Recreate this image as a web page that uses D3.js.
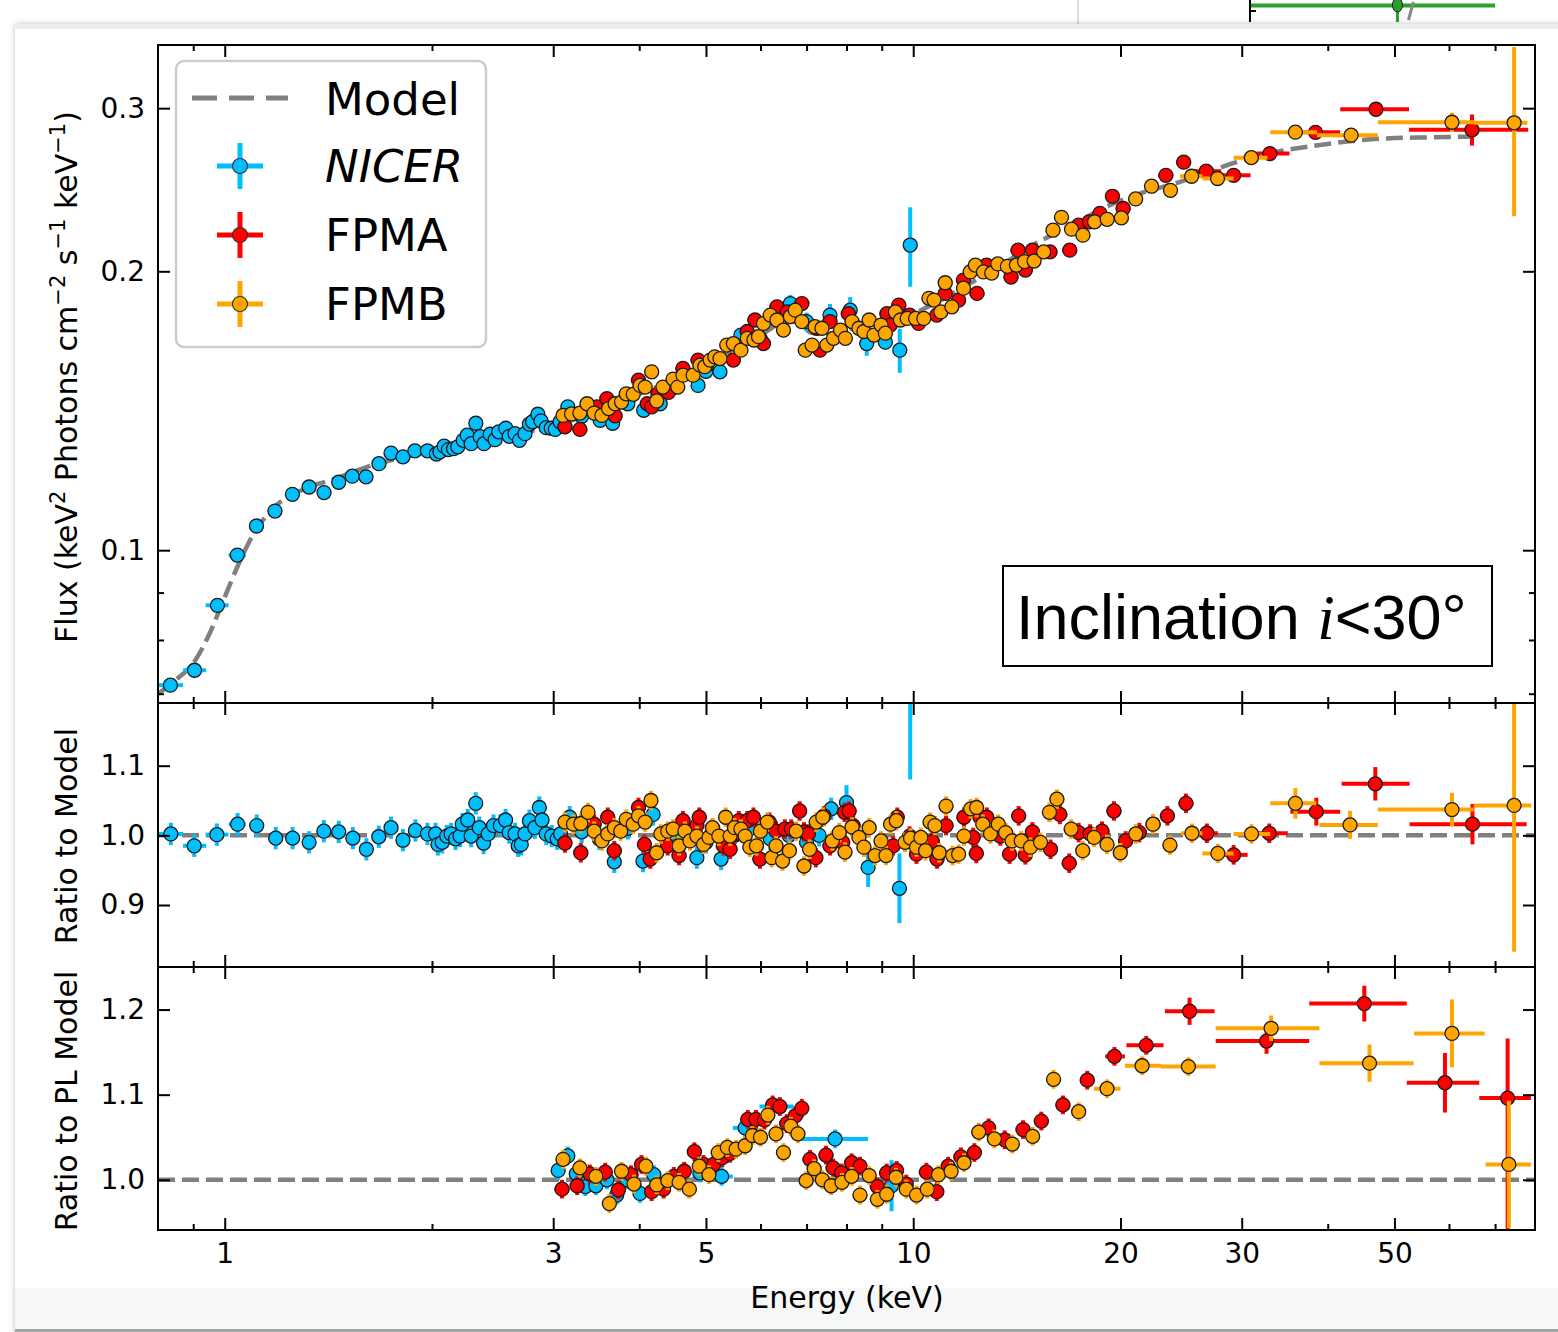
<!DOCTYPE html>
<html>
<head>
<meta charset="utf-8">
<script src="https://cdn.jsdelivr.net/npm/d3@7"></script>
<style>
  body { margin: 0; background: #fff; }
  svg { font-family: "DejaVu Sans", sans-serif; }
</style>
</head>
<body>
<svg id="chart" width="1558" height="1332"></svg>
<script>
// ---- values ----
// rows: [energy keV, value, dy (or [dyLo, dyHi]), E low, E high]; missing entries use the panel default

// model curve, top panel
const modelTop = [[0.80,0.0700],[0.85,0.0725],[0.90,0.0755],[0.95,0.0812],[1.00,0.0890],[1.05,0.0970],
  [1.10,0.1040],[1.15,0.1090],[1.20,0.1125],[1.30,0.1163],[1.45,0.1195],[1.60,0.1228],[1.80,0.1258],
  [2.0,0.1282],[2.5,0.1325],[3.0,0.1362],[3.5,0.1415],[4.0,0.1475],[4.5,0.1528],[5.0,0.1585],
  [5.5,0.1650],[6.0,0.1705],[6.4,0.1755],[6.8,0.1765],[7.1,0.1718],[7.5,0.1712],[8.0,0.1730],
  [9.0,0.1760],[10,0.1800],[11,0.1865],[12,0.1935],[13,0.2000],[15,0.2140],[17,0.2243],[19,0.2345],
  [21.5,0.2431],[24.3,0.2495],[28,0.2590],[31,0.2655],[35,0.2705],[40,0.2745],[45,0.2772],
  [50,0.2785],[56,0.2790],[65,0.2795]];

const nicerTop = [[0.834,0.0715,null,0.80,0.87],[0.904,0.0742,null,0.87,0.94],[0.976,0.0872,null,0.938,1.013],
  [1.043,0.0988,null,1.013,1.073],[1.112,0.1062,null,1.087,1.139],[1.183,0.1102,null,1.158,1.206],
  [1.254,0.1149],[1.326,0.1170],[1.394,0.1154],[1.464,0.1184],[1.532,0.1202],[1.604,0.1200],
  [1.675,0.1240],[1.744,0.1273],[1.815,0.1261],[1.889,0.1280],[1.970,0.1280],[2.03,0.1270],
  [2.054,0.1277],[2.083,0.1295],[2.113,0.1284],[2.15,0.1287],[2.18,0.1293],[2.22,0.1314],
  [2.25,0.1331],[2.28,0.1303],[2.316,0.1371],[2.35,0.1326],[2.38,0.1303],[2.43,0.1334],
  [2.47,0.1316],[2.50,0.1342],[2.56,0.1354],[2.59,0.1327],[2.64,0.1336],[2.68,0.1314],
  [2.73,0.1336],[2.77,0.1368],[2.80,0.1376],[2.85,0.1402],[2.88,0.1379],[2.93,0.1356],
  [2.98,0.1354],[3.02,0.1350],[3.07,0.1376],[3.15,0.1428],[3.30,0.1395],[3.51,0.1381],
  [3.66,0.1371],[3.85,0.1439],[4.06,0.1416],[4.29,0.1439],[4.50,0.1500],[4.87,0.1506],
  [5.00,0.1560],[5.24,0.1558],[5.62,0.1707],[6.00,0.1690],[6.63,0.1846,0.004],[7.00,0.1765,0.004],
  [7.57,0.1794,0.005],[8.10,0.1816,0.006],[8.56,0.1671,0.005],[9.11,0.1677,0.003],
  [9.56,0.1644,0.009],[9.90,0.2135,0.021]];

const fpmaTop = [[3.12,0.1359],[3.28,0.1350],[3.47,0.1428],[3.59,0.1457],[3.69,0.1396],[3.99,0.1526],
  [4.11,0.1439],[4.17,0.1428],[4.26,0.1475],[4.41,0.1480],[4.63,0.1571],[4.87,0.1604],[5.01,0.1584],
  [5.48,0.1604],[5.74,0.1722],[5.89,0.1772],[6.06,0.1671],[6.34,0.1831],[6.56,0.1808],[6.89,0.1846],
  [7.24,0.1736],[7.32,0.1644],[7.57,0.1765],[8.05,0.1800],[9.16,0.1800],[9.26,0.1750],[9.53,0.1839],
  [9.88,0.1794],[10.18,0.1757],[10.82,0.1794],[11.13,0.1893],[11.64,0.1862],[11.83,0.1957],
  [12.38,0.1893],[12.78,0.2031],[13.87,0.1972],[14.2,0.2108],[14.55,0.2006],[14.9,0.2108],
  [15.8,0.2099],[16.88,0.2108],[17.39,0.2243],[18.02,0.2262],[18.67,0.2310],[19.47,0.2410],
  [20.18,0.2338],[23.28,0.2539],[24.71,0.2623],[26.64,0.2565,null,25.4,28.0],[29.2,0.2539,null,28.0,30.9],
  [32.96,0.2680,0.004,31.5,35.2],[38.4,0.2825,0.004,36.8,41.7],[47.0,0.2992,0.0055,41.7,52.5],
  [64.8,0.2843,0.011,52.5,78.2]];

const fpmbTop = [[3.10,0.1398],[3.19,0.1403],[3.28,0.1406],[3.36,0.1439],[3.44,0.1406],[3.53,0.1398],
  [3.61,0.1422],[3.69,0.1439],[3.77,0.1445],[3.83,0.1475],[3.92,0.1473],[4.01,0.1506],[4.08,0.1500],
  [4.17,0.1558],[4.24,0.1449],[4.33,0.1500],[4.48,0.1530],[4.55,0.1500],[4.63,0.1545],[4.79,0.1545],
  [4.90,0.1584],[4.98,0.1578],[5.07,0.1604],[5.15,0.1617],[5.24,0.1610],[5.36,0.1665],[5.48,0.1671],
  [5.62,0.1644],[5.74,0.1693],[5.87,0.1686],[5.96,0.1700],[6.06,0.1757],[6.20,0.1794],[6.34,0.1772],
  [6.48,0.1728],[6.63,0.1787],[6.74,0.1816],[6.89,0.1765],[6.97,0.1644],[7.13,0.1665],[7.20,0.1743],
  [7.37,0.1736],[7.49,0.1665],[7.66,0.1693],[7.84,0.1728],[7.97,0.1693],[8.15,0.1765],[8.34,0.1736],
  [8.48,0.1722],[8.63,0.1772],[8.77,0.1707],[8.98,0.1750],[9.11,0.1715],[9.42,0.1808],[9.58,0.1772],
  [9.80,0.1779],[10.08,0.1779],[10.36,0.1779],[10.54,0.1870],[10.72,0.1862],[10.97,0.1808],
  [11.13,0.1944],[11.38,0.1831],[11.83,0.1918],[12.10,0.1997],[12.31,0.2031],[12.65,0.1997],
  [13.00,0.1991],[13.27,0.2037],[13.7,0.2025],[14.12,0.2031],[14.51,0.2049],[14.98,0.2052],
  [15.47,0.2099],[15.96,0.2215],[16.42,0.2287],[16.98,0.2221],[17.64,0.2188],[18.34,0.2262],
  [19.13,0.2276],[20.06,0.2284],[21.04,0.2394],[22.19,0.2471],[23.64,0.2446],
  [25.37,0.2533,null,24.4,26.3],[27.67,0.2519,null,26.3,29.2],[30.98,0.2653,null,29.2,32.7],
  [35.9,0.2826,0.004,33.0,38.6],[43.25,0.2805,0.004,38.6,47.3],[60.6,0.2897,0.007,47.3,65.2],
  [74.6,0.2893,0.060,65.2,78.0]];

// ratio to model, middle panel
const nicerRatio = [[0.835,1.002,null,0.80,0.87],[0.903,0.985,null,0.87,0.94],[0.974,1.001,null,0.938,1.013],
  [1.044,1.016,null,1.013,1.073],[1.113,1.014,null,1.087,1.139],[1.186,0.996,null,1.158,1.206],
  [1.255,0.996],[1.326,0.990],[1.393,1.006],[1.464,1.005],[1.535,0.996],[1.606,0.980],[1.674,0.998],
  [1.744,1.011],[1.815,0.993],[1.892,1.007],[1.970,1.002],[2.024,1.002],[2.040,0.987],[2.070,0.990],
  [2.101,0.999],[2.132,1.002],[2.164,0.995],[2.197,0.999],[2.213,1.016],[2.254,1.022],[2.28,0.999],
  [2.315,1.046],[2.343,1.011],[2.377,0.989],[2.413,1.002],[2.457,1.014],[2.513,1.014],[2.558,1.022],
  [2.589,1.004],[2.64,1.002],[2.668,0.985],[2.696,0.987],[2.729,1.002],[2.771,1.021],[2.821,1.011],
  [2.864,1.040],[2.89,1.022],[2.93,1.002],[2.985,0.999],[3.04,0.995],[3.075,1.002],[3.17,1.026],
  [3.30,1.005],[3.50,0.995],[3.68,0.962],[3.85,1.010],[4.05,0.963],[4.19,1.030],[4.40,0.990],
  [4.60,1.000],[4.85,0.968],[5.00,0.990],[5.26,0.966],[5.50,1.000],[5.80,1.010],[6.20,0.995],
  [6.60,1.000],[7.00,0.990],[7.30,1.000],[7.60,1.038],[8.00,1.047,0.025],[8.60,0.954,0.028],
  [9.55,0.924,0.050],[9.90,1.210,0.130]];

const fpmaRatio = [[3.12,0.989],[3.29,0.975],[3.44,1.016],[3.60,1.026],[3.68,0.978],[3.99,1.040],
  [4.07,0.987],[4.15,0.966],[4.40,0.985],[4.57,0.971],[4.63,1.021],[4.85,1.014],[4.89,1.026],
  [5.11,1.009],[5.30,0.985],[5.42,0.980],[5.50,1.002],[5.58,1.021],[5.74,1.021],[5.86,1.026],
  [5.99,0.966],[6.18,1.019],[6.32,1.006],[6.51,1.009],[6.65,1.009],[6.84,1.035],[6.94,1.005],
  [7.04,1.002],[7.22,0.968],[7.42,1.028],[7.57,0.985],[7.90,0.990],[7.95,1.033],[8.07,1.035],
  [8.18,1.014],[9.35,0.985],[9.48,1.026],[9.88,0.999],[10.11,0.973],[10.66,0.991],[10.83,0.966],
  [11.16,1.014],[11.85,1.026],[12.22,0.997],[12.35,0.974],[12.50,1.026],[12.79,1.026],[13.38,0.999],
  [13.80,0.973],[14.23,1.028],[14.55,0.972],[14.90,1.005],[15.83,0.980],[16.33,1.030],[16.85,0.960],
  [17.39,1.004],[18.07,1.002],[18.80,1.006],[19.57,1.035],[20.35,0.992],[21.30,1.004],[22.30,1.016],
  [23.40,1.028],[24.90,1.046],[26.7,1.003,null,25.9,27.7],[29.2,0.972,null,28.3,30.6],
  [32.9,1.003,null,31.0,35.0],[38.5,1.034,0.020,35.3,41.7],[46.9,1.074,0.024,41.9,52.6],
  [64.9,1.016,0.029,52.6,77.8]];

const fpmbRatio = [[3.12,1.019],[3.21,1.016],[3.29,1.017],[3.37,1.033],[3.44,1.006],[3.53,0.992],
  [3.60,1.002],[3.68,1.011],[3.76,1.006],[3.83,1.023],[3.92,1.016],[3.99,1.028],[4.08,1.019],
  [4.16,1.050],[4.24,0.975],[4.30,1.002],[4.40,1.006],[4.48,1.009],[4.57,0.985],[4.66,1.006],
  [4.74,0.992],[4.85,0.999],[4.96,0.987],[5.05,0.997],[5.11,1.011],[5.22,0.999],[5.34,1.026],
  [5.42,0.999],[5.50,1.011],[5.62,1.009],[5.70,0.999],[5.79,0.983],[5.92,0.985],[6.00,1.006],
  [6.14,1.019],[6.23,0.968],[6.32,0.985],[6.46,0.963],[6.61,0.978],[6.76,1.006],[6.94,0.956],
  [7.07,0.980],[7.23,1.019],[7.39,1.026],[7.63,0.992],[7.81,1.004],[7.96,0.976],[8.15,1.012],
  [8.34,0.997],[8.48,0.983],[8.63,1.011],[8.80,0.971],[8.98,0.992],[9.13,0.971],[9.27,1.016],
  [9.45,1.021],[9.73,0.990],[9.91,0.996],[10.11,0.983],[10.26,0.997],[10.42,0.978],[10.58,1.019],
  [10.75,1.014],[10.91,0.975],[11.16,1.042],[11.41,0.971],[11.64,0.973],[11.85,0.999],[12.12,1.038],
  [12.36,1.040],[12.62,1.016],[12.95,1.002],[13.29,1.016],[13.62,1.004],[13.92,0.992],[14.35,0.992],
  [14.80,0.983],[15.31,0.990],[15.77,1.033],[16.17,1.052],[16.96,1.009],[17.63,0.978],[18.31,0.997],
  [19.12,0.987],[19.99,0.975],[21.05,1.002],[22.3,1.016],[23.6,0.986],[25.4,1.003,null,24.5,26.3],
  [27.7,0.974,null,26.3,29.2],[31.0,1.002,null,29.2,33.0],[35.9,1.046,0.022,33.0,38.5],
  [43.1,1.015,0.020,38.9,47.3],[60.6,1.037,0.024,47.3,65.2],[74.6,1.043,0.210,65.2,79.0]];

// ratio to power-law model, bottom panel
const nicerPL = [[3.05,1.011],[3.15,1.028],[3.24,1.007],[3.34,0.992],[3.46,0.993],[3.59,1.000],
  [3.71,0.982],[3.84,1.000],[4.01,0.984],[4.20,1.006],[4.90,1.008],[5.27,1.004,null,4.78,5.47],
  [5.70,1.061,null,5.47,5.95],[6.40,1.086,null,5.98,6.70],[7.70,1.048,null,6.80,8.60],[9.30,0.993,0.030]];

const fpmaPL = [[3.09,0.989],[3.25,0.993],[3.39,1.007],[3.57,1.009],[3.73,0.988],[3.89,1.006],
  [4.03,1.018],[4.17,0.986],[4.34,0.989],[4.49,1.004],[4.65,1.010],[4.81,1.033],[4.96,1.018],
  [5.13,1.018],[5.28,1.026],[5.42,1.031],[5.75,1.071],[5.91,1.071],[6.08,1.070],[6.25,1.088],
  [6.40,1.086],[6.55,1.066],[6.74,1.075],[6.89,1.084],[7.08,1.024],[7.47,1.029],[7.65,1.014],
  [7.87,1.008],[8.14,1.020],[8.37,1.016],[8.87,0.992],[9.15,1.008],[9.46,1.011],[9.77,0.995],
  [10.45,1.009],[10.82,0.986],[11.24,1.016],[11.73,1.027],[12.27,1.032],[12.87,1.061],[13.58,1.047],
  [14.44,1.059],[15.35,1.069],[16.5,1.088],[17.9,1.117],[19.6,1.145,null,19.0,20.3],
  [21.8,1.158,null,20.4,23.1],[25.2,1.198,0.016,23.2,27.4],[32.6,1.163,0.015,27.5,37.6],
  [45.2,1.207,0.021,37.6,52.1],[59.2,1.114,0.035,52.1,66.4],[73.0,1.096,[0.16,0.07],66.4,78.9]];

const fpmbPL = [[3.10,1.024],[3.28,1.014],[3.46,1.004],[3.62,0.972],[3.77,1.010],[3.93,0.995],
  [4.09,1.016],[4.24,0.994],[4.40,0.999],[4.57,0.997],[4.73,0.989],[4.89,1.016],[5.05,1.006],
  [5.21,1.032],[5.37,1.038],[5.53,1.036],[5.70,1.040],[5.84,1.052],[6.00,1.050],[6.15,1.076],
  [6.32,1.054],[6.48,1.032],[6.64,1.063],[6.80,1.054],[6.99,0.999],[7.18,1.013],[7.38,1.000],
  [7.60,0.993],[7.88,0.997],[8.14,1.004],[8.37,0.982],[8.63,1.005],[8.87,0.977],[9.15,0.983],
  [9.44,1.003],[9.77,0.989],[10.11,0.982],[10.48,0.989],[10.88,1.006],[11.35,1.010],[11.85,1.020],
  [12.45,1.056],[13.12,1.048],[13.93,1.042],[14.91,1.051],[15.99,1.118],[17.39,1.080],
  [19.12,1.107,null,18.3,20.0],[21.5,1.134,null,20.3,22.9],[25.1,1.133,null,22.9,27.5],
  [33.1,1.178,0.015,27.5,38.9],[46.0,1.137,0.022,38.9,53.3],[60.6,1.172,0.040,53.4,67.6],
  [73.3,1.018,0.075,67.8,78.9]];

// ticks
const xMajor = [1, 3, 5, 10, 20, 30, 50];
const xMinor = [0.9, 2, 4, 6, 7, 8, 9, 40, 60, 70];
const fluxMajor = [0.1, 0.2, 0.3];
const fluxMinor = [0.07, 0.08, 0.09];
const ratioTicks = [0.9, 1.0, 1.1];
const plTicks = [1.0, 1.1, 1.2];

// stray piece of the neighbouring figure at the top edge
const neighbourPoint = [[43, 20.1, 71.4]];

// ---- layout ----
const svg = d3.select("#chart");
const L = 158, R = 1535;
const cNicer = "#00bfff", cFpma = "#ff0000", cFpmb = "#ffa500";

const x = d3.scaleLog().domain([0.8, 80]).range([L, R]);

const yFlux = d3.scaleLog().domain([0.0684, 0.351]).range([703, 45]);
const yRatio = d3.scaleLinear().domain([0.811, 1.19]).range([967, 703]);
const yPL = d3.scaleLinear().domain([0.941, 1.25]).range([1230, 967]);

// window frame of the screenshot
const defs = svg.append("defs");
const sh = defs.append("filter").attr("id", "shadow").attr("x", "-5%").attr("y", "-5%")
  .attr("width", "110%").attr("height", "110%");
sh.append("feGaussianBlur").attr("in", "SourceAlpha").attr("stdDeviation", 3);
sh.append("feOffset").attr("dx", 0).attr("dy", 0).attr("result", "b");
sh.append("feComponentTransfer").append("feFuncA").attr("type", "linear").attr("slope", 0.25);
const mg = sh.append("feMerge");
mg.append("feMergeNode");
mg.append("feMergeNode").attr("in", "SourceGraphic");

svg.append("line").attr("x1", 1078).attr("x2", 1078).attr("y1", 0).attr("y2", 26)
  .attr("stroke", "#dedede").attr("stroke-width", 2);

// neighbour fragment
const nx = d3.scaleLog().domain([20, 100]).range([1250, 1560]);
svg.append("line").attr("x1", 1250).attr("x2", 1250).attr("y1", 0).attr("y2", 22)
  .attr("stroke", "#000").attr("stroke-width", 2);
svg.append("line").attr("x1", 1250).attr("x2", 1256).attr("y1", 11).attr("y2", 11)
  .attr("stroke", "#000").attr("stroke-width", 2);
const nb = svg.append("g").selectAll("g").data(neighbourPoint).join("g");
nb.append("line").attr("x1", d => nx(d[1])).attr("x2", d => nx(d[2])).attr("y1", 5.5).attr("y2", 5.5)
  .attr("stroke", "#2ca02c").attr("stroke-width", 4);
nb.append("line").attr("x1", d => nx(d[0])).attr("x2", d => nx(d[0])).attr("y1", 0).attr("y2", 22)
  .attr("stroke", "#2ca02c").attr("stroke-width", 3);
nb.append("line").attr("x1", d => nx(d[0]) + 16).attr("x2", d => nx(d[0]) + 11).attr("y1", 2).attr("y2", 20)
  .attr("stroke", "#888").attr("stroke-width", 3);
nb.append("ellipse").attr("cx", d => nx(d[0])).attr("cy", 5).attr("rx", 5).attr("ry", 7)
  .attr("fill", "#2ca02c").attr("stroke", "#1a1a1a").attr("stroke-width", 1);

svg.append("rect").attr("x", 15).attr("y", 24).attr("width", 1560).attr("height", 1320)
  .attr("fill", "#fff").attr("filter", "url(#shadow)");
svg.append("rect").attr("x", 15).attr("y", 24).attr("width", 1560).attr("height", 5).attr("fill", "#eaeeed");
svg.append("rect").attr("x", 15).attr("y", 1288).attr("width", 1560).attr("height", 41).attr("fill", "#f6f7f7");
svg.append("rect").attr("x", 15).attr("y", 1329).attr("width", 1560).attr("height", 3).attr("fill", "#a3a6a6");

// ---- panels ----
const panels = [
  { id: "pFlux", y: yFlux, top: 45, bottom: 703 },
  { id: "pRatio", y: yRatio, top: 703, bottom: 967 },
  { id: "pPL", y: yPL, top: 967, bottom: 1230 }
];
panels.forEach(p => {
  defs.append("clipPath").attr("id", p.id).append("rect")
    .attr("x", L).attr("y", p.top).attr("width", R - L).attr("height", p.bottom - p.top);
  p.g = svg.append("g").attr("clip-path", `url(#${p.id})`);
});

function drawSeries(g, rows, yS, color, dyDefault, dxDefault) {
  const s = g.append("g");
  const bars = s.append("g").attr("stroke", color).attr("stroke-width", 4);
  const dy = d => {
    const v = d[2] != null ? d[2] : dyDefault(d[1]);
    return Array.isArray(v) ? v : [v, v];
  };
  bars.selectAll("line.h").data(rows).join("line").attr("class", "h")
    .attr("x1", d => x(d[3] != null ? d[3] : d[0] * (1 - dxDefault)))
    .attr("x2", d => x(d[4] != null ? d[4] : d[0] * (1 + dxDefault)))
    .attr("y1", d => yS(d[1])).attr("y2", d => yS(d[1]));
  bars.selectAll("line.v").data(rows).join("line").attr("class", "v")
    .attr("x1", d => x(d[0])).attr("x2", d => x(d[0]))
    .attr("y1", d => yS(d[1] - dy(d)[0])).attr("y2", d => yS(d[1] + dy(d)[1]));
  s.append("g").selectAll("circle").data(rows).join("circle")
    .attr("cx", d => x(d[0])).attr("cy", d => yS(d[1])).attr("r", 7)
    .attr("fill", color).attr("stroke", "#1a1a1a").attr("stroke-width", 1.3);
}

const dashed = g => g.attr("fill", "none").attr("stroke", "#808080")
  .attr("stroke-width", 4.5).attr("stroke-dasharray", "17,7");

// top: flux
panels[0].g.append("path").datum(modelTop)
  .attr("d", d3.line().x(d => x(d[0])).y(d => yFlux(d[1])).curve(d3.curveMonotoneX))
  .call(dashed);
drawSeries(panels[0].g, nicerTop, yFlux, cNicer, v => v * 0.008, 0.012);
drawSeries(panels[0].g, fpmaTop, yFlux, cFpma, v => v * 0.012, 0.025);
drawSeries(panels[0].g, fpmbTop, yFlux, cFpmb, v => v * 0.012, 0.025);

// middle: ratio to model
panels[1].g.append("line").attr("x1", x(x.domain()[0])).attr("x2", x(x.domain()[1]))
  .attr("y1", yRatio(1)).attr("y2", yRatio(1)).call(dashed);
drawSeries(panels[1].g, nicerRatio, yRatio, cNicer, () => 0.016, 0.012);
drawSeries(panels[1].g, fpmaRatio, yRatio, cFpma, () => 0.014, 0.025);
drawSeries(panels[1].g, fpmbRatio, yRatio, cFpmb, () => 0.014, 0.025);

// bottom: ratio to PL model
panels[2].g.append("line").attr("x1", x(x.domain()[0])).attr("x2", x(x.domain()[1]))
  .attr("y1", yPL(1)).attr("y2", yPL(1)).call(dashed);
drawSeries(panels[2].g, nicerPL, yPL, cNicer, () => 0.011, 0.012);
drawSeries(panels[2].g, fpmaPL, yPL, cFpma, () => 0.011, 0.025);
drawSeries(panels[2].g, fpmbPL, yPL, cFpmb, () => 0.011, 0.025);

// ---- axes ----
function tickStyle(g) {
  g.select(".domain").remove();
  g.selectAll(".tick line").attr("stroke", "#000").attr("stroke-width", 2);
  g.selectAll(".tick text").attr("font-size", 28).attr("fill", "#000")
    .style("font-family", "'DejaVu Sans', sans-serif");
}
const ySpecs = [
  { major: fluxMajor, minor: fluxMinor, fmt: d3.format(".1f") },
  { major: ratioTicks, minor: [], fmt: d3.format(".1f") },
  { major: plTicks, minor: [], fmt: d3.format(".1f") }
];
panels.forEach((p, i) => {
  const last = i === panels.length - 1;
  const spec = ySpecs[i];
  svg.append("g").attr("transform", `translate(0,${p.bottom})`)
    .call(d3.axisBottom(x).tickValues(xMajor).tickSize(-12).tickPadding(13)
      .tickFormat(last ? d3.format("d") : () => ""))
    .call(tickStyle);
  svg.append("g").attr("transform", `translate(0,${p.bottom})`)
    .call(d3.axisBottom(x).tickValues(xMinor).tickSize(-6).tickFormat(() => ""))
    .call(tickStyle);
  svg.append("g").attr("transform", `translate(0,${p.top})`)
    .call(d3.axisTop(x).tickValues(xMajor).tickSize(-12).tickFormat(() => ""))
    .call(tickStyle);
  svg.append("g").attr("transform", `translate(0,${p.top})`)
    .call(d3.axisTop(x).tickValues(xMinor).tickSize(-6).tickFormat(() => ""))
    .call(tickStyle);
  svg.append("g").attr("transform", `translate(${L},0)`)
    .call(d3.axisLeft(p.y).tickValues(spec.major).tickSize(-12).tickPadding(13).tickFormat(spec.fmt))
    .call(tickStyle);
  svg.append("g").attr("transform", `translate(${R},0)`)
    .call(d3.axisRight(p.y).tickValues(spec.major).tickSize(-12).tickFormat(() => ""))
    .call(tickStyle);
  if (spec.minor.length) {
    svg.append("g").attr("transform", `translate(${L},0)`)
      .call(d3.axisLeft(p.y).tickValues(spec.minor).tickSize(-6).tickFormat(() => ""))
      .call(tickStyle);
    svg.append("g").attr("transform", `translate(${R},0)`)
      .call(d3.axisRight(p.y).tickValues(spec.minor).tickSize(-6).tickFormat(() => ""))
      .call(tickStyle);
  }
  svg.append("rect").attr("x", L).attr("y", p.top).attr("width", R - L).attr("height", p.bottom - p.top)
    .attr("fill", "none").attr("stroke", "#000").attr("stroke-width", 2);
});

// axis labels
svg.append("text").attr("x", 847).attr("y", 1308).attr("text-anchor", "middle")
  .attr("font-size", 30).text("Energy (keV)");

const fluxLabel = svg.append("text").attr("transform", "translate(77,377) rotate(-90)")
  .attr("text-anchor", "middle").attr("font-size", 30);
[["Flux (keV", false], ["2", true], [" Photons cm", false], ["\u22122", true], [" s", false],
 ["\u22121", true], [" keV", false], ["\u22121", true], [")", false]].forEach(([t, sup]) => {
  const ts = fluxLabel.append("tspan").text(t);
  if (sup) ts.attr("baseline-shift", "super").attr("font-size", 21);
});
svg.append("text").attr("transform", "translate(77,836) rotate(-90)")
  .attr("text-anchor", "middle").attr("font-size", 30).text("Ratio to Model");
svg.append("text").attr("transform", "translate(77,1101) rotate(-90)")
  .attr("text-anchor", "middle").attr("font-size", 30).text("Ratio to PL Model");

// ---- legend ----
const lg = svg.append("g");
lg.append("rect").attr("x", 176).attr("y", 61).attr("width", 310).attr("height", 286).attr("rx", 8)
  .attr("fill", "#fff").attr("fill-opacity", 0.85).attr("stroke", "#cccccc").attr("stroke-width", 2.5);
lg.append("line").attr("x1", 192).attr("x2", 288).attr("y1", 98).attr("y2", 98)
  .attr("stroke", "#808080").attr("stroke-width", 5).attr("stroke-dasharray", "25,12");
const legendItems = [
  { label: "NICER", color: cNicer, y: 166, italic: true },
  { label: "FPMA", color: cFpma, y: 235, italic: false },
  { label: "FPMB", color: cFpmb, y: 304, italic: false }
];
lg.append("text").attr("x", 325).attr("y", 115).attr("font-size", 45).text("Model");
legendItems.forEach(it => {
  const h = lg.append("g").attr("stroke", it.color).attr("stroke-width", 5);
  h.append("line").attr("x1", 217).attr("x2", 263).attr("y1", it.y).attr("y2", it.y);
  h.append("line").attr("x1", 240).attr("x2", 240).attr("y1", it.y - 23).attr("y2", it.y + 23);
  lg.append("circle").attr("cx", 240).attr("cy", it.y).attr("r", 7.5)
    .attr("fill", it.color).attr("stroke", "#333").attr("stroke-width", 1.2);
  lg.append("text").attr("x", 325).attr("y", it.y + 16).attr("font-size", 45)
    .attr("font-style", it.italic ? "italic" : "normal").text(it.label);
});

// ---- annotation box ----
svg.append("rect").attr("x", 1003).attr("y", 566).attr("width", 489).attr("height", 100)
  .attr("fill", "#fff").attr("stroke", "#000").attr("stroke-width", 2);
const ann = svg.append("text").attr("x", 1016).attr("y", 639).attr("font-size", 63)
  .style("font-family", "'Liberation Sans', Arial, sans-serif");
ann.append("tspan").text("Inclination ");
ann.append("tspan").style("font-family", "'Liberation Serif', serif").attr("font-style", "italic").text("i");
ann.append("tspan").text("<30\u00b0");
</script>
</body>
</html>
